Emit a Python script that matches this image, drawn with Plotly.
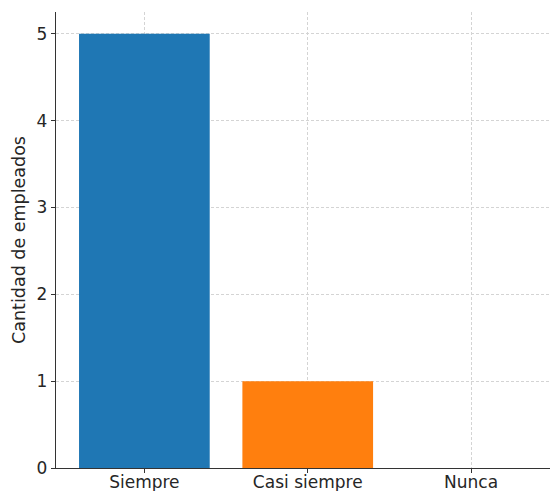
import plotly.graph_objects as go

categories = ["Siempre", "Casi siempre", "Nunca"]
values = [5, 1, 0]
colors = ["#1f77b4", "#ff7f0e", "#2ca02c"]
y_title = "Cantidad de empleados"

fig = go.Figure(go.Bar(x=[0, 1, 2], y=values, marker=dict(color=colors, line=dict(width=0)), width=0.8))

font = dict(family="DejaVu Sans", size=17, color="#262626")
fig.update_layout(
    width=550, height=491,
    margin=dict(l=56, r=0, t=12, b=23, autoexpand=False),
    plot_bgcolor="white", paper_bgcolor="white",
    showlegend=False,
    font=font,
)
grid = dict(showgrid=True, gridcolor="#d4d4d4", griddash="3px,2px", gridwidth=0.8)
fig.update_xaxes(
    range=[-0.541, 2.483], tickmode="array", tickvals=[0, 1, 2], ticktext=categories,
    showline=True, linecolor="#333333", linewidth=1.3,
    ticks="outside", ticklen=4, tickcolor="#333333", ticklabelstandoff=-6,
    layer="above traces", zeroline=False, automargin=False, **grid,
)
fig.update_yaxes(
    range=[0, 5.25], tickvals=[0, 1, 2, 3, 4, 5],
    showline=True, linecolor="#333333", linewidth=1.3,
    ticks="outside", ticklen=4, tickcolor="#333333",
    layer="above traces", zeroline=False, automargin=False, **grid,
    title=dict(text=y_title, font=dict(family="DejaVu Sans", size=17.5, color="#262626"), standoff=6),
)
fig.write_html(
    "out.html",
    config={"displayModeBar": False},
    post_script="document.body.style.margin='0px';document.body.style.overflow='hidden';",
)
